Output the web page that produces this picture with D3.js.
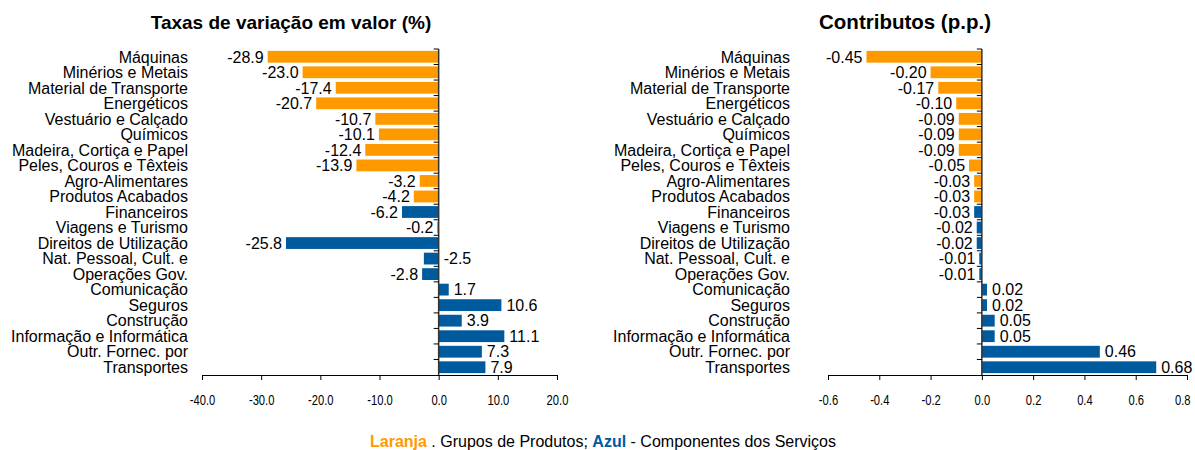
<!DOCTYPE html>
<html>
<head>
<meta charset="utf-8">
<script src="https://cdn.jsdelivr.net/npm/d3@7"></script>
<style>
  body { margin: 0; background: #fff; }
  svg text { font-family: "Liberation Sans", Arial, sans-serif; fill: #000; }
</style>
</head>
<body>
<script>
// categories from top to bottom
let categories = ["Máquinas", "Minérios e Metais", "Material de Transporte", "Energéticos",
  "Vestuário e Calçado", "Químicos", "Madeira, Cortiça e Papel", "Peles, Couros e Têxteis",
  "Agro-Alimentares", "Produtos Acabados", "Financeiros", "Viagens e Turismo",
  "Direitos de Utilização", "Nat. Pessoal, Cult. e", "Operações Gov.", "Comunicação",
  "Seguros", "Construção", "Informação e Informática", "Outr. Fornec. por", "Transportes"];
// group: p = grupos de produtos (laranja), s = componentes dos servicos (azul)
let groups = ["p","p","p","p","p","p","p","p","p","p","s","s","s","s","s","s","s","s","s","s","s"];
let taxas = [-28.9, -23.0, -17.4, -20.7, -10.7, -10.1, -12.4, -13.9, -3.2, -4.2,
  -6.2, -0.2, -25.8, -2.5, -2.8, 1.7, 10.6, 3.9, 11.1, 7.3, 7.9];
let contributos = [-0.45, -0.20, -0.17, -0.10, -0.09, -0.09, -0.09, -0.05, -0.03, -0.03,
  -0.03, -0.02, -0.02, -0.01, -0.01, 0.02, 0.02, 0.05, 0.05, 0.46, 0.68];
let taxasTicks = [-40, -30, -20, -10, 0, 10, 20];
let contribTicks = [-0.6, -0.4, -0.2, 0, 0.2, 0.4, 0.6, 0.8];

let width = 1195, height = 450;
let colors = { p: "#FF9900", s: "#005A9E" };
let loc = d3.formatLocale({ decimal: ".", thousands: ",", grouping: [3], currency: ["", ""], minus: "-" });

let svg = d3.select("body").append("svg")
  .attr("width", width).attr("height", height);

// one panel = one horizontal bar chart
function panel(opts) {
  let x = d3.scaleLinear().domain(opts.domain).range(opts.xRange);
  let y = d3.scaleBand().domain(categories).range([49, 375]).paddingInner(0.24).paddingOuter(0.12);
  let g = svg.append("g");

  g.selectAll("rect.bar").data(categories).enter().append("rect")
    .attr("class", "bar")
    .attr("x", (d, i) => x(Math.min(0, opts.values[i])))
    .attr("y", d => y(d))
    .attr("width", (d, i) => Math.abs(x(opts.values[i]) - x(0)))
    .attr("height", y.bandwidth())
    .attr("fill", (d, i) => colors[groups[i]]);

  // value labels: outside the bar end
  let flipped = i => opts.flip && opts.flip(i);
  g.selectAll("text.val").data(categories).enter().append("text")
    .attr("class", "val")
    .attr("x", (d, i) => {
      let v = opts.values[i];
      if (flipped(i)) return x(0) + 5;
      return v < 0 ? x(v) - 4 : x(v) + 5;
    })
    .attr("y", d => y(d) + y.bandwidth() / 2)
    .attr("dy", "0.36em")
    .attr("text-anchor", (d, i) => (opts.values[i] < 0 && !flipped(i)) ? "end" : "start")
    .style("font-size", "16px")
    .text((d, i) => opts.fmt(opts.values[i]));

  // category labels
  g.selectAll("text.cat").data(categories).enter().append("text")
    .attr("class", "cat")
    .attr("x", opts.labelX)
    .attr("y", d => y(d) + y.bandwidth() / 2)
    .attr("dy", "0.36em")
    .attr("text-anchor", "end")
    .style("font-size", "16px")
    .text(d => d);

  // vertical axis at zero with small ticks at band boundaries
  let boundaries = d3.range(categories.length).map(i => 49 + i * y.step());
  g.append("line")
    .attr("x1", x(0)).attr("x2", x(0))
    .attr("y1", 49).attr("y2", 375)
    .attr("stroke", "#333").attr("stroke-width", 1.5);
  g.selectAll("line.yt").data(boundaries).enter().append("line")
    .attr("class", "yt")
    .attr("x1", x(0) - 5).attr("x2", x(0))
    .attr("y1", d => d).attr("y2", d => d)
    .attr("stroke", "#000");

  // bottom axis
  let axis = d3.axisBottom(x).tickValues(opts.ticks).tickFormat(loc.format(".1f"))
    .tickSizeOuter(0).tickSizeInner(5).tickPadding(15);
  let ag = g.append("g").attr("transform", "translate(0,375)").call(axis);
  ag.select(".domain").attr("stroke", "#000");
  // tick labels in the original are tall and condensed: squeeze them
  ag.selectAll(".tick text").style("font-size", "14px").style("fill", "#000")
    .each(function (d) {
      let full = this.getComputedTextLength();
      let t = d3.select(this).attr("textLength", full * 0.8).attr("lengthAdjust", "spacingAndGlyphs");
      // keep the last label well inside the picture
      let over = x(d) + full / 2 - (width - 3);
      if (over > 0) t.attr("x", -over);
    });

  // title
  svg.append("text")
    .attr("x", opts.titleX).attr("y", 29)
    .attr("text-anchor", "middle")
    .style("font-size", opts.titleSize).style("font-weight", "bold")
    .text(opts.title);
}

panel({
  values: taxas, domain: [-40, 20], xRange: [202, 557], ticks: taxasTicks,
  fmt: loc.format(".1f"), labelX: 188,
  flip: i => categories[i] === "Nat. Pessoal, Cult. e", // label sits right of zero in the original
  title: "Taxas de variação em valor (%)", titleX: 291, titleSize: "19px"
});

panel({
  values: contributos, domain: [-0.6, 0.8], xRange: [828, 1187], ticks: contribTicks,
  fmt: loc.format(".2f"), labelX: 790,
  title: "Contributos (p.p.)", titleX: 905, titleSize: "20.5px"
});

// footer legend
let foot = svg.append("text")
  .attr("x", 603).attr("y", 447)
  .attr("text-anchor", "middle")
  .style("font-size", "16px");
foot.append("tspan").style("fill", colors.p).style("font-weight", "bold").text("Laranja");
foot.append("tspan").text(" . Grupos de Produtos; ");
foot.append("tspan").style("fill", colors.s).style("font-weight", "bold").text("Azul");
foot.append("tspan").text(" - Componentes dos Serviços");
</script>
</body>
</html>
